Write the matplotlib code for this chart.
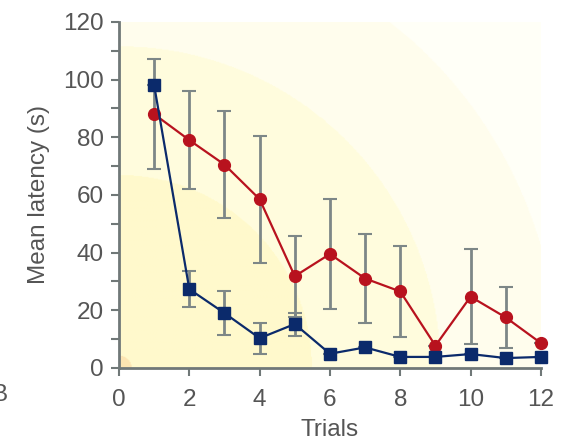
"""Mean latency per trial, two groups with error bars."""

import matplotlib.pyplot as plt
import numpy as np

TRIALS = [1, 2, 3, 4, 5, 6, 7, 8, 9, 10, 11, 12]
RED_MEAN = [88, 79, 70.5, 58.5, 31.8, 39.5, 31, 26.5, 7.7, 24.7, 17.5, 8.6]
RED_ERR = [19, 17, 18.5, 22, 14, 19, 15.6, 15.7, 0, 16.4, 10.6, 0]
BLUE_MEAN = [98, 27.3, 19, 10.3, 15.2, 4.9, 7.1, 3.8, 3.8, 4.8, 3.4, 3.8]
BLUE_ERR = [0, 6.3, 7.5, 5.4, 4, 0, 0, 0, 0, 0, 0, 0]

RED = "#b8121e"
NAVY = "#0b2a6b"
GREY = "#707878"
EGREY = "#7d8787"
TEXT = "#555555"

plt.rcParams["font.family"] = ["Liberation Sans", "DejaVu Sans"]

fig = plt.figure(figsize=(5.64, 4.47), dpi=100)
ax = fig.add_axes([0.211, 0.177, 0.748, 0.774])

# yellow radial wash from the origin, in pixel-like distances
xs = np.linspace(0, 12, 400)
ys = np.linspace(0, 120, 400)
gx, gy = np.meshgrid(xs, ys)
dist = np.hypot(gx * 35.2, gy * 2.883)
bands = [(12, (0.99, 0.90, 0.70)), (193, (1.0, 0.98, 0.80)),
         (322, (1.0, 0.99, 0.87)), (440, (1.0, 0.995, 0.93)),
         (1e9, (1.0, 1.0, 0.97))]
img = np.ones(dist.shape + (3,))
for lim, col in reversed(bands):
    img[dist < lim] = col
ax.imshow(img, origin="lower", extent=(0, 12, 0, 120), aspect="auto",
          zorder=0, interpolation="bilinear")

ax.errorbar(TRIALS, RED_MEAN, yerr=RED_ERR, fmt="none", ecolor=EGREY,
            elinewidth=2, capsize=5, capthick=1.5, zorder=2)
ax.errorbar(TRIALS, BLUE_MEAN, yerr=BLUE_ERR, fmt="none", ecolor=EGREY,
            elinewidth=2, capsize=5, capthick=1.5, zorder=2)
ax.plot(TRIALS, RED_MEAN, color=RED, marker="o", markersize=8.5, lw=1.6,
        zorder=3, clip_on=False)
ax.plot(TRIALS, BLUE_MEAN, color=NAVY, marker="s", markersize=8, lw=1.6,
        zorder=4, clip_on=False)

ax.set_xlim(0, 12)
ax.set_ylim(0, 120)
ax.set_xticks(range(0, 13, 2))
ax.set_yticks(range(0, 121, 20))
ax.set_yticks(range(10, 120, 20), minor=True)
for side in ("top", "right"):
    ax.spines[side].set_visible(False)
for side in ("left", "bottom"):
    ax.spines[side].set_color(GREY)
    ax.spines[side].set_linewidth(2)
ax.tick_params(which="both", direction="out", length=6, width=1.5,
               color=GREY, labelcolor=TEXT, labelsize=17.5)
ax.tick_params(axis="x", pad=9)
ax.tick_params(axis="y", pad=5)

ax.set_xlabel("Trials", fontsize=17.5, color=TEXT, labelpad=6)
ax.set_ylabel("Mean latency (s)", fontsize=17.5, color=TEXT, labelpad=9)
fig.text(0.014, 0.116, "B", fontsize=17.5, color=TEXT, ha="right",
         va="center")

fig.savefig("out.png", dpi=100)
